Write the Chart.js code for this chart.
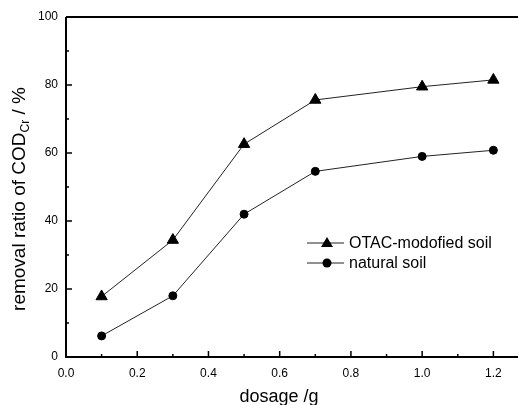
<!DOCTYPE html>
<html>
<head>
<meta charset="utf-8">
<script src="https://cdn.jsdelivr.net/npm/chart.js@4.4.0/dist/chart.umd.min.js"></script>
<style>
  html, body { margin: 0; padding: 0; background: #fff; }
  #wrap { width: 518px; height: 405px; overflow: hidden; position: relative; }
  canvas { display: block; }
</style>
</head>
<body>
<div id="wrap"><canvas id="chart" width="540" height="405"></canvas></div>
<script>
const dosage = [0.1, 0.3, 0.5, 0.7, 1.0, 1.2];
const otacSoil = [17.8, 34.4, 62.6, 75.6, 79.5, 81.5];
const naturalSoil = [6.2, 18.0, 42.0, 54.6, 59.0, 60.8];
const xTicks = [0.0, 0.2, 0.4, 0.6, 0.8, 1.0, 1.2];
const yTicks = [0, 20, 40, 60, 80, 100];
const seriesNames = ['OTAC-modofied soil', 'natural soil'];

const FONT = '"Liberation Sans", Arial, sans-serif';

function toPoints(ys) {
    return dosage.map((x, i) => ({ x: x, y: ys[i] }));
}

// axis frame, inward ticks, titles and legend
const framePlugin = {
    id: 'frame',
    afterDraw(c) {
        const ctx = c.ctx;
        const a = c.chartArea;
        const xs = c.scales.x, ys = c.scales.y;
        ctx.save();
        ctx.strokeStyle = '#000';
        ctx.lineWidth = 2;
        ctx.beginPath();
        ctx.moveTo(a.left, a.top);
        ctx.lineTo(a.left, a.bottom);
        ctx.lineTo(a.right, a.bottom);
        ctx.moveTo(a.left, a.top);
        ctx.lineTo(a.right, a.top);
        ctx.stroke();

        ctx.lineWidth = 1.5;
        ctx.beginPath();
        for (let i = 0; i < xTicks.length; i++) {
            const px = xs.getPixelForValue(xTicks[i]);
            ctx.moveTo(px, a.bottom);
            ctx.lineTo(px, a.bottom - 6);
            const mx = xs.getPixelForValue(xTicks[i] + 0.1);
            ctx.moveTo(mx, a.bottom);
            ctx.lineTo(mx, a.bottom - 3);
        }
        for (let i = 0; i < yTicks.length; i++) {
            const py = ys.getPixelForValue(yTicks[i]);
            ctx.moveTo(a.left, py);
            ctx.lineTo(a.left + 6, py);
            if (i < yTicks.length - 1) {
                const my = ys.getPixelForValue(yTicks[i] + 10);
                ctx.moveTo(a.left, my);
                ctx.lineTo(a.left + 3, my);
            }
        }
        ctx.stroke();

        // x title
        ctx.fillStyle = '#000';
        ctx.font = '18px ' + FONT;
        ctx.textAlign = 'center';
        ctx.textBaseline = 'alphabetic';
        ctx.fillText('dosage /g', 279, 402);

        // y title with subscript
        ctx.translate(25, 199);
        ctx.rotate(-Math.PI / 2);
        const main = 'removal ratio of COD';
        const sub = 'Cr';
        const tail = ' / %';
        ctx.font = '19px ' + FONT;
        const w1 = ctx.measureText(main).width;
        const w3 = ctx.measureText(tail).width;
        ctx.font = '12px ' + FONT;
        const w2 = ctx.measureText(sub).width;
        let x0 = -(w1 + w2 + w3) / 2;
        ctx.textAlign = 'left';
        ctx.font = '19px ' + FONT;
        ctx.fillText(main, x0, 0);
        ctx.font = '12px ' + FONT;
        ctx.fillText(sub, x0 + w1, 4);
        ctx.font = '19px ' + FONT;
        ctx.fillText(tail, x0 + w1 + w2, 0);
        ctx.restore();

        // legend
        ctx.save();
        const rows = [243, 263];
        ctx.font = '16px ' + FONT;
        ctx.textBaseline = 'middle';
        ctx.fillStyle = '#000';
        rows.forEach((ry, i) => {
            ctx.strokeStyle = '#222';
            ctx.lineWidth = 1;
            ctx.beginPath();
            ctx.moveTo(307, ry);
            ctx.lineTo(344, ry);
            ctx.stroke();
            ctx.beginPath();
            if (i === 0) {
                ctx.moveTo(327, ry - 6);
                ctx.lineTo(333, ry + 4);
                ctx.lineTo(321, ry + 4);
                ctx.closePath();
            } else {
                ctx.arc(327, ry, 4.5, 0, Math.PI * 2);
            }
            ctx.fill();
            ctx.fillText(seriesNames[i], 349, ry + 1);
        });
        ctx.restore();
    }
};

const ctx = document.getElementById('chart').getContext('2d');
const chart = new Chart(ctx, {
    type: 'line',
    data: {
        datasets: [
            {
                label: seriesNames[0],
                data: toPoints(otacSoil),
                borderColor: '#222',
                borderWidth: 1,
                pointStyle: 'triangle',
                pointRadius: 6.5,
                pointBorderWidth: 1,
                pointBackgroundColor: '#000',
                pointBorderColor: '#000',
                tension: 0
            },
            {
                label: seriesNames[1],
                data: toPoints(naturalSoil),
                borderColor: '#222',
                borderWidth: 1,
                pointStyle: 'circle',
                pointRadius: 4,
                pointBorderWidth: 1,
                pointBackgroundColor: '#000',
                pointBorderColor: '#000',
                tension: 0
            }
        ]
    },
    options: {
        responsive: false,
        animation: false,
        layout: { padding: { left: 0, top: 17, right: 11, bottom: 0 } },
        plugins: {
            legend: { display: false },
            tooltip: { enabled: false }
        },
        scales: {
            x: {
                type: 'linear',
                min: 0,
                max: 1.3,
                grid: { display: false, drawTicks: false },
                border: { display: false },
                afterBuildTicks: s => { s.ticks = xTicks.map(v => ({ value: v })); },
                afterFit: s => { s.height = 48; },
                ticks: {
                    padding: 9,
                    color: '#000',
                    font: { family: FONT, size: 12 },
                    callback: v => v.toFixed(1)
                }
            },
            y: {
                min: 0,
                max: 100,
                grid: { display: false, drawTicks: false },
                border: { display: false },
                afterBuildTicks: s => { s.ticks = yTicks.map(v => ({ value: v })); },
                afterFit: s => { s.width = 66; },
                ticks: {
                    padding: 8,
                    color: '#000',
                    font: { family: FONT, size: 12 }
                }
            }
        }
    },
    plugins: [framePlugin]
});
</script>
</body>
</html>
